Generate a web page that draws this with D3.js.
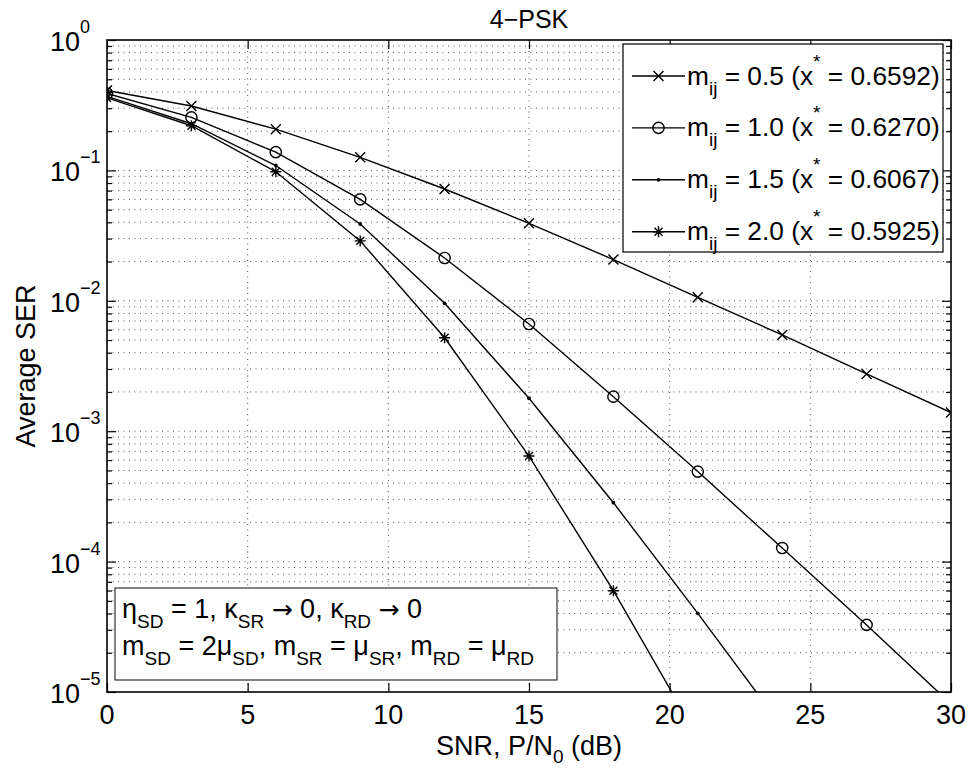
<!DOCTYPE html>
<html>
<head>
<meta charset="utf-8">
<script src="https://cdn.jsdelivr.net/npm/d3@7"></script>
<style>
  html, body { margin: 0; padding: 0; background: #fff; }
  svg { display: block; }
  text { font-family: "Liberation Sans", Arial, Helvetica, sans-serif; fill: #000; }
</style>
</head>
<body>
<svg id="chart" width="973" height="769"></svg>
<script>
// ---------------- data ----------------
const snrDb = [0, 3, 6, 9, 12, 15, 18, 21, 24, 27, 30];
const serM05 = [0.41, 0.312, 0.207, 0.126, 0.072, 0.0393, 0.0207, 0.01064, 0.00547, 0.00275, 0.00139];
const serM10 = [0.389, 0.255, 0.138, 0.060, 0.0213, 0.00664, 0.00184, 0.00049, 0.000127, 3.27e-5, 8.1e-6];
const serM15 = [0.37, 0.228, 0.109, 0.0388, 0.00957, 0.00179, 0.000283, 4.01e-5, 5.4e-6];
const serM20 = [0.36, 0.220, 0.0977, 0.0288, 0.00521, 0.000645, 5.98e-5, 4.5e-6];
const seriesMij = ["0.5", "1.0", "1.5", "2.0"];
const seriesXstar = ["0.6592", "0.6270", "0.6067", "0.5925"];
const seriesMarkers = ["x", "o", ".", "*"];
const xTicks = [0, 5, 10, 15, 20, 25, 30];
const yDecades = [0, -1, -2, -3, -4, -5];
const titleText = "4\u2212PSK";

// ---------------- layout ----------------
const svg = d3.select("#chart");
const L = 107, R = 951, T = 40, B = 692;
const x = d3.scaleLinear().domain([0, 30]).range([L, R]);
const y = d3.scaleLog().domain([1e-5, 1]).range([B, T]);
const FS = 27, SFS = 19;

svg.append("defs").append("clipPath").attr("id", "plotclip")
  .append("rect").attr("x", L).attr("y", T).attr("width", R - L).attr("height", B - T);

// grid: y minor + major (dotted)
const yGridVals = [];
for (let d = -5; d < 0; d++) for (let k = 1; k <= 9; k++) yGridVals.push(k * Math.pow(10, d));
const grid = svg.append("g");
grid.selectAll("line.gy").data(yGridVals.filter(v => v > 1e-5)).enter().append("line")
  .attr("x1", L).attr("x2", R).attr("y1", d => y(d)).attr("y2", d => y(d))
  .attr("stroke", "#555").attr("stroke-width", 1).attr("stroke-dasharray", "1,4.5");
grid.selectAll("line.gx").data(xTicks.filter(v => v > 0 && v < 30)).enter().append("line")
  .attr("x1", d => x(d)).attr("x2", d => x(d)).attr("y1", T).attr("y2", B)
  .attr("stroke", "#555").attr("stroke-width", 1).attr("stroke-dasharray", "1,4.5");

// axes via d3 axis generators (ticks inward)
const xAxisB = d3.axisBottom(x).tickValues(xTicks).tickSizeInner(-9).tickSizeOuter(0).tickFormat("");
const xAxisT = d3.axisTop(x).tickValues(xTicks).tickSizeInner(-9).tickSizeOuter(0).tickFormat("");
const majorY = yDecades.map(e => Math.pow(10, e));
const minorY = yGridVals.filter(v => !majorY.some(m => Math.abs(m - v) / v < 1e-9));
const yAxisLmaj = d3.axisLeft(y).tickValues(majorY).tickSizeInner(-9).tickSizeOuter(0).tickFormat("");
const yAxisLmin = d3.axisLeft(y).tickValues(minorY).tickSizeInner(-5).tickSizeOuter(0).tickFormat("");
const yAxisRmaj = d3.axisRight(y).tickValues(majorY).tickSizeInner(-9).tickSizeOuter(0).tickFormat("");
const yAxisRmin = d3.axisRight(y).tickValues(minorY).tickSizeInner(-5).tickSizeOuter(0).tickFormat("");

function styleAxis(g) {
  g.select(".domain").remove();
  g.selectAll(".tick line").attr("stroke", "#000").attr("stroke-width", 1.2);
}
svg.append("g").attr("transform", `translate(0,${B})`).call(xAxisB).call(styleAxis);
svg.append("g").attr("transform", `translate(0,${T})`).call(xAxisT).call(styleAxis);
svg.append("g").attr("transform", `translate(${L},0)`).call(yAxisLmaj).call(styleAxis);
svg.append("g").attr("transform", `translate(${L},0)`).call(yAxisLmin).call(styleAxis);
svg.append("g").attr("transform", `translate(${R},0)`).call(yAxisRmaj).call(styleAxis);
svg.append("g").attr("transform", `translate(${R},0)`).call(yAxisRmin).call(styleAxis);

// frame
svg.append("rect").attr("x", L).attr("y", T).attr("width", R - L).attr("height", B - T)
  .attr("fill", "none").attr("stroke", "#000").attr("stroke-width", 1.6);

// tick labels
svg.selectAll("text.xt").data(xTicks).enter().append("text")
  .attr("x", d => x(d)).attr("y", 724).attr("text-anchor", "middle")
  .attr("font-size", FS).text(d => d);
yDecades.forEach(e => {
  const t = svg.append("text").attr("x", 50).attr("y", y(Math.pow(10, e)) + 11).attr("font-size", FS);
  t.append("tspan").text("10");
  t.append("tspan").attr("font-size", 18).attr("dy", -18).text(e === 0 ? "0" : "\u2212" + (-e));
});

// rich text helper
function rich(parent, xPos, yPos, segs, anchor, subShift, fs) {
  const t = parent.append("text").attr("x", xPos).attr("y", yPos).attr("font-size", fs || FS)
    .attr("text-anchor", anchor || "start");
  let cur = 0;
  segs.forEach(s => {
    const shift = s.sub ? (subShift || 10) : s.sup ? -17 : 0;
    const ts = t.append("tspan").attr("dy", shift - cur).text(s.t);
    if (s.sub || s.sup) ts.attr("font-size", SFS);
    if (s.arrow) ts.attr("font-family", "DejaVu Sans").attr("font-size", 25);
    cur = shift;
  });
  return t;
}

// title and axis labels
svg.append("text").attr("x", (L + R) / 2).attr("y", 28).attr("text-anchor", "middle")
  .attr("font-size", 25).text(titleText);
rich(svg, (L + R) / 2, 755, [{t: "SNR, P/N"}, {t: "0", sub: true}, {t: " (dB)"}], "middle", 8);
svg.append("text").attr("transform", `translate(35,${(T + B) / 2}) rotate(-90)`)
  .attr("text-anchor", "middle").attr("font-size", FS).text("Average SER");

// markers
function drawMarker(g, type, cx, cy) {
  if (type === "x") {
    const s = 5;
    g.append("path").attr("d", `M${cx - s},${cy - s}L${cx + s},${cy + s}M${cx - s},${cy + s}L${cx + s},${cy - s}`)
      .attr("stroke", "#000").attr("stroke-width", 1.4).attr("fill", "none");
  } else if (type === "o") {
    g.append("circle").attr("cx", cx).attr("cy", cy).attr("r", 5.6)
      .attr("stroke", "#000").attr("stroke-width", 1.4).attr("fill", "none");
  } else if (type === ".") {
    g.append("circle").attr("cx", cx).attr("cy", cy).attr("r", 1.9).attr("fill", "#000");
  } else if (type === "*") {
    const s = 5.5, d = s * 0.72;
    g.append("path").attr("d",
      `M${cx - s},${cy}L${cx + s},${cy}M${cx},${cy - s}L${cx},${cy + s}` +
      `M${cx - d},${cy - d}L${cx + d},${cy + d}M${cx - d},${cy + d}L${cx + d},${cy - d}`)
      .attr("stroke", "#000").attr("stroke-width", 1.4).attr("fill", "none");
  }
}

const allSeries = [serM05, serM10, serM15, serM20];
const plot = svg.append("g").attr("clip-path", "url(#plotclip)");
const line = d3.line().x((d, i) => x(snrDb[i])).y(d => y(d));
allSeries.forEach((ser, si) => {
  plot.append("path").attr("d", line(ser)).attr("fill", "none")
    .attr("stroke", "#000").attr("stroke-width", 1.4);
  ser.forEach((v, i) => {
    if (v >= 1e-5) drawMarker(plot, seriesMarkers[si], x(snrDb[i]), y(v));
  });
});

// legend
const lg = svg.append("g");
lg.append("rect").attr("x", 623).attr("y", 44).attr("width", 320).attr("height", 208)
  .attr("fill", "#fff").attr("stroke", "#000").attr("stroke-width", 1.2);
seriesMij.forEach((m, i) => {
  const ry = 76 + i * 51.9;
  lg.append("line").attr("x1", 632).attr("x2", 685).attr("y1", ry).attr("y2", ry)
    .attr("stroke", "#000").attr("stroke-width", 1.4);
  drawMarker(lg, seriesMarkers[i], 658.5, ry);
  rich(lg, 687, ry + 8.5, [{t: "m"}, {t: "ij", sub: true}, {t: " = " + m + " (x"}, {t: "*", sup: true}, {t: " = " + seriesXstar[i] + ")"}], "start", 10, 26.3);
});

// annotation box
const ab = svg.append("g");
ab.append("rect").attr("x", 115).attr("y", 588).attr("width", 442).attr("height", 92)
  .attr("fill", "#fff").attr("stroke", "#333").attr("stroke-width", 1.2);
rich(ab, 122, 618, [{t: "\u03b7"}, {t: "SD", sub: true}, {t: " = 1, \u03ba"}, {t: "SR", sub: true},
  {t: " "}, {t: "\u2192", arrow: true}, {t: " 0, \u03ba"}, {t: "RD", sub: true}, {t: " "}, {t: "\u2192", arrow: true}, {t: " 0"}]);
rich(ab, 122, 655, [{t: "m"}, {t: "SD", sub: true}, {t: " = 2\u03bc"}, {t: "SD", sub: true},
  {t: ", m"}, {t: "SR", sub: true}, {t: " = \u03bc"}, {t: "SR", sub: true}, {t: ", m"}, {t: "RD", sub: true},
  {t: " = \u03bc"}, {t: "RD", sub: true}]);
</script>
</body>
</html>
